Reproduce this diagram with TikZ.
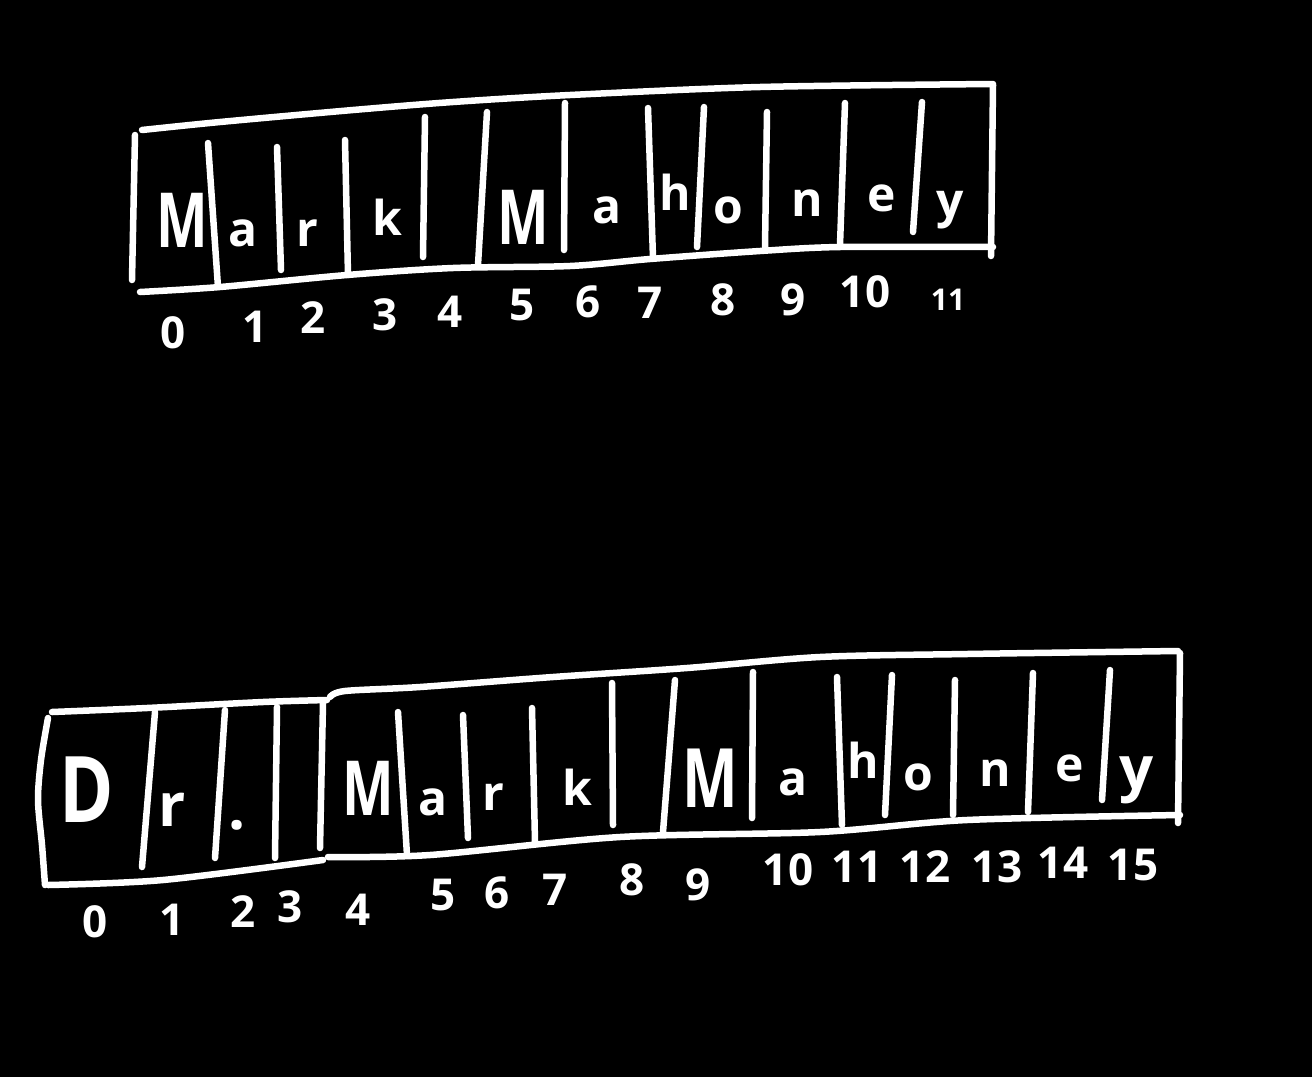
\documentclass[tikz,border=0pt]{standalone}
\usepackage{graphicx}
\usepackage{fontspec}
\setmainfont{Open Sans}
\newcommand{\nm}[1]{\scalebox{0.72}[1]{#1}}
\begin{document}
\begin{tikzpicture}[x=1pt,y=-1pt,
  ink/.style={white,line width=6.5pt,line cap=round,line join=round},
  capl/.style={text=white,inner sep=0pt,font=\fontsize{76}{80}\selectfont},
  low/.style={text=white,inner sep=0pt,font=\bfseries\fontsize{48}{52}\selectfont},
  big/.style={text=white,inner sep=0pt,font=\bfseries\fontsize{60}{64}\selectfont},
  idx/.style={text=white,inner sep=0pt,font=\bfseries\fontsize{44}{48}\selectfont},
  sml/.style={text=white,inner sep=0pt,font=\bfseries\fontsize{30}{34}\selectfont}]
\fill[black] (0,0) rectangle (1312,1077);
\useasboundingbox (0,0) rectangle (1312,1077);

% ---------- top array ----------
\draw[ink] (135,135) -- (132,280);
\draw[ink] plot[smooth] coordinates {(142,130) (220,122) (353,110) (453,102) (570,95) (760,87) (993,84)};
\draw[ink] (993,85) -- (991,256);
\draw[ink] plot[smooth] coordinates {(140,292) (220,287) (347,275) (453,268) (570,266) (650,259) (760,251) (840,247) (993,247)};
\foreach \a/\b/\c/\d in {208/143/218/287, 277/147/281/270, 345/140/348/275, 425/117/423/257,
  487/112/478/265, 565/103/564/250, 648/108/653/258, 704/107/697/247, 767/112/765/247,
  845/103/840/245, 922/102/913/232}
  \draw[ink] (\a,\b) -- (\c,\d);

\node[capl] (t0) at (182,220) {\nm{\bfseries M}};
\node[low] (t1) at (243,233) {a};
\node[low] (t2) at (307,233) {r};
\node[low] (t3) at (387,217) {k};
\node[capl] (t5) at (523,217) {\nm{\bfseries M}};
\node[low] (t6) at (607,210) {a};
\node[low] (t7) at (675,192) {h};
\node[low] (t8) at (728,210) {o};
\node[low] (t9) at (807,203) {n};
\node[low] (t10) at (882,198) {e};
\node[low] (t11) at (950,210) {y};

\node[idx] (ti0) at (173,333) {0};
\node[idx] (ti1) at (255,327) {1};
\node[idx] (ti2) at (313,318) {2};
\node[idx] (ti3) at (385,315) {3};
\node[idx] (ti4) at (450,312) {4};
\node[idx] (ti5) at (522,305) {5};
\node[idx] (ti6) at (588,302) {6};
\node[idx] (ti7) at (650,303) {7};
\node[idx] (ti8) at (723,300) {8};
\node[idx] (ti9) at (793,300) {9};
\node[idx] (ti10) at (865,292) {10};
\node[sml] (ti11) at (948,300) {11};

% ---------- bottom array ----------
\draw[ink] plot[smooth] coordinates {(48,718) (41,760) (38,800) (42,845) (45,885)};
\draw[ink] plot[smooth] coordinates {(52,712) (147,708) (263,702) (327,700)};
\draw[ink] plot[smooth] coordinates {(330,697) (345,691) (420,687) (553,677) (687,668) (820,657) (967,654) (1178,651)};
\draw[ink] (1180,653) -- (1178,823);
\draw[ink] plot[smooth] coordinates {(48,885) (163,880) (323,860)};
\draw[ink] plot[smooth] coordinates {(328,857) (430,855) (620,837) (820,832) (967,820) (1180,815)};
\foreach \a/\b/\c/\d in {155/712/142/867, 225/710/215/858, 277/707/275/858, 323/703/320/848,
  398/712/407/855, 463/715/468/838, 532/708/535/842, 612/683/613/825, 675/680/663/832,
  753/672/752/818, 837/677/842/825, 892/675/885/815, 955/680/953/815, 1033/673/1028/812,
  1110/670/1102/800}
  \draw[ink] (\a,\b) -- (\c,\d);

\node[capl,font=\fontsize{92}{96}\selectfont] (b0) at (87,790) {\scalebox{0.8}[1]{\bfseries D}};
\node[big] (b1) at (172,810) {r};
\node[big] (b2) at (237,825) {.};
\node[capl] (b4) at (368,788) {\nm{\bfseries M}};
\node[low] (b5) at (433,802) {a};
\node[low] (b6) at (493,797) {r};
\node[low] (b7) at (577,787) {k};
\node[capl,font=\fontsize{82}{86}\selectfont] (b9) at (710,778) {\nm{\bfseries M}};
\node[low] (b10) at (793,782) {a};
\node[low] (b11) at (863,760) {h};
\node[low] (b12) at (918,777) {o};
\node[low] (b13) at (995,773) {n};
\node[low] (b14) at (1070,768) {e};
\node[big] (b15) at (1137,780) {y};

\node[idx] (bi0) at (95,922) {0};
\node[idx] (bi1) at (172,920) {1};
\node[idx] (bi2) at (243,912) {2};
\node[idx] (bi3) at (290,907) {3};
\node[idx] (bi4) at (358,910) {4};
\node[idx] (bi5) at (443,895) {5};
\node[idx] (bi6) at (497,893) {6};
\node[idx] (bi7) at (555,890) {7};
\node[idx] (bi8) at (632,880) {8};
\node[idx] (bi9) at (698,885) {9};
\node[idx] (bi10) at (788,870) {10};
\node[idx] (bi11) at (857,867) {11};
\node[idx] (bi12) at (925,867) {12};
\node[idx] (bi13) at (997,867) {13};
\node[idx] (bi14) at (1063,863) {14};
\node[idx] (bi15) at (1133,865) {15};
\end{tikzpicture}
\end{document}
